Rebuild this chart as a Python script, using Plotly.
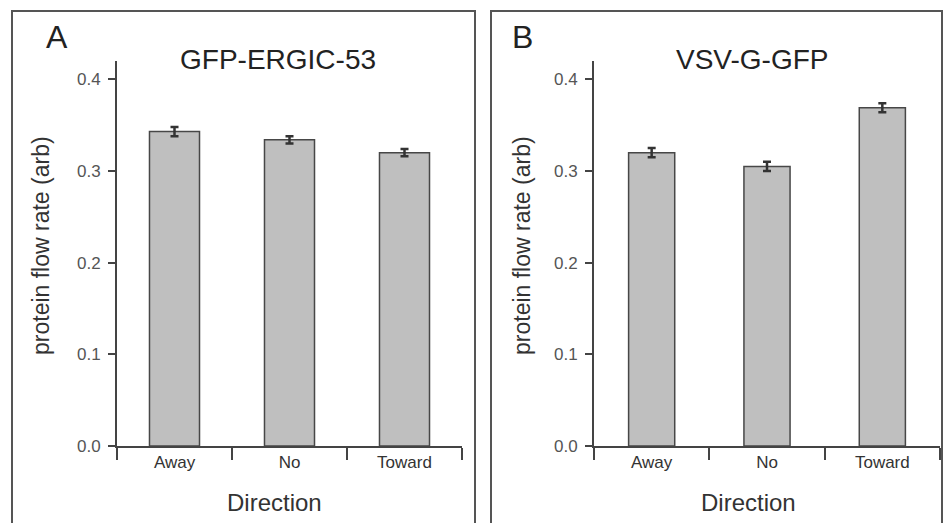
import plotly.graph_objects as go

W, H = 944, 523

categories = ["Away", "No", "Toward"]
gfp_ergic_values = [0.343, 0.334, 0.320]
gfp_ergic_errors = [0.005, 0.004, 0.004]
vsvg_values = [0.320, 0.305, 0.369]
vsvg_errors = [0.005, 0.005, 0.005]
ytick_vals = [0.0, 0.1, 0.2, 0.3, 0.4]
ytick_text = ["0.0", "0.1", "0.2", "0.3", "0.4"]

FONT = "Arial, Liberation Sans, sans-serif"
BAR_FILL = "#bfbfbf"
BAR_LINE = "#474747"
AXIS = "#444444"


def px(x):
    return x / W


def py(y):
    return 1 - y / H


fig = go.Figure()

fig.add_trace(go.Bar(
    x=categories, y=gfp_ergic_values, width=0.435,
    marker=dict(color=BAR_FILL, line=dict(color=BAR_LINE, width=1.5)),
    error_y=dict(type="data", array=gfp_ergic_errors, color="#333333", thickness=2.5, width=4),
    xaxis="x", yaxis="y", showlegend=False,
))
fig.add_trace(go.Bar(
    x=categories, y=vsvg_values, width=0.40,
    marker=dict(color=BAR_FILL, line=dict(color=BAR_LINE, width=1.5)),
    error_y=dict(type="data", array=vsvg_errors, color="#333333", thickness=2.5, width=4),
    xaxis="x2", yaxis="y2", showlegend=False,
))

ydom = [py(446), py(61)]
common_x = dict(
    type="category", range=[-0.5, 2.5], tickson="boundaries", ticks="outside",
    ticklen=12, tickwidth=2, tickcolor=AXIS, showline=True, linecolor=AXIS,
    linewidth=2, showgrid=False, zeroline=False, automargin=False,
    tickfont=dict(family=FONT, size=17, color="#333333"),
)
common_y = dict(
    range=[0, 0.42], tickvals=ytick_vals, ticktext=ytick_text, ticks="outside",
    ticklen=7, tickwidth=2, tickcolor=AXIS, showline=True, linecolor=AXIS,
    linewidth=2, showgrid=False, zeroline=False, ticklabelstandoff=4, automargin=False,
    tickfont=dict(family=FONT, size=17, color="#555555"),
)

fig.update_layout(
    width=W, height=H,
    margin=dict(l=0, r=0, t=0, b=0),
    paper_bgcolor="white", plot_bgcolor="white",
    bargap=0.5,
    xaxis=dict(domain=[px(117), px(462)], anchor="y", **common_x),
    yaxis=dict(domain=ydom, anchor="x", **common_y),
    xaxis2=dict(domain=[px(594), px(940)], anchor="y2", **common_x),
    yaxis2=dict(domain=ydom, anchor="x2", **common_y),
)

shapes = []
for x0, x1 in [(12, 475), (491, 942)]:
    shapes.append(dict(type="rect", xref="paper", yref="paper",
                       x0=px(x0), x1=px(x1), y0=py(530), y1=py(11),
                       line=dict(color="#555555", width=2), fillcolor="rgba(0,0,0,0)"))
fig.update_layout(shapes=shapes)

annotations = []


def ann(text, x, y, size, color="#222222", angle=0):
    annotations.append(dict(text=text, x=px(x), y=py(y), xref="paper", yref="paper",
                            showarrow=False, xanchor="center", yanchor="middle",
                            textangle=angle, font=dict(family=FONT, size=size, color=color)))


ann("A", 57, 37, 32)
ann("B", 522, 37, 32)
ann("GFP-ERGIC-53", 278, 59, 28)
ann("VSV-G-GFP", 752, 59, 28)
ann("Direction", 274, 502, 24, "#333333")
ann("Direction", 748, 502, 24, "#333333")
ann("protein flow rate (arb)", 41, 246, 23, "#333333", -90)
ann("protein flow rate (arb)", 522, 246, 23, "#333333", -90)
fig.update_layout(annotations=annotations)

fig.write_html("out.html", config={"displayModeBar": False},
               post_script="document.body.style.margin='0';document.body.style.overflow='hidden';")
